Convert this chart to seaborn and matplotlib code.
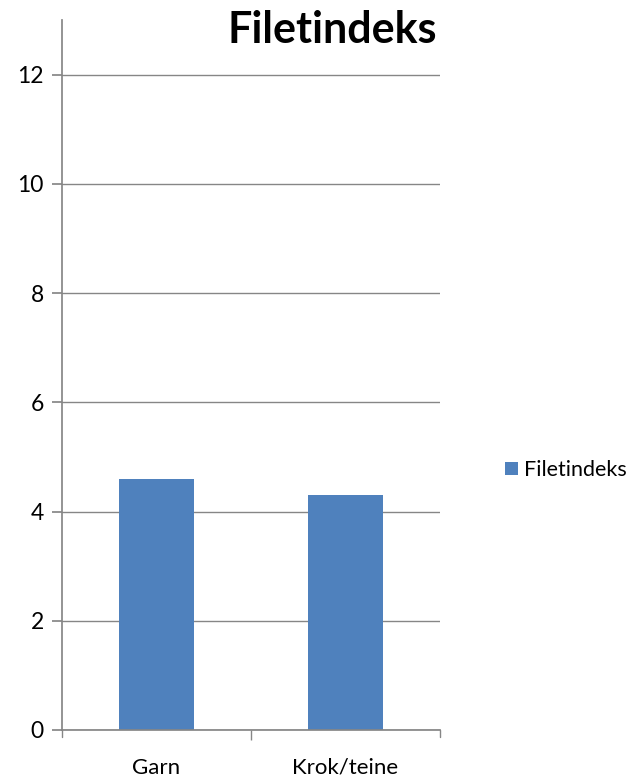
import matplotlib
matplotlib.use("Agg")
import matplotlib.pyplot as plt
import seaborn as sns
import pandas as pd

categories = ["Garn", "Krok/teine"]
values = [4.6, 4.3]
series_name = "Filetindeks"
yticks = [0, 2, 4, 6, 8, 10, 12]

df = pd.DataFrame({"cat": categories, "val": values, "series": [series_name] * len(categories)})

sns.set_theme(style="white")
plt.rcParams["font.family"] = ["Lato", "DejaVu Sans"]
plt.rcParams["text.color"] = "black"
plt.rcParams["xtick.labelcolor"] = "black"
plt.rcParams["ytick.labelcolor"] = "black"

fig = plt.figure(figsize=(6.36, 7.83), dpi=100)
ax = fig.add_axes([62 / 636, 53 / 783, 378 / 636, 710 / 783])

sns.barplot(data=df, x="cat", y="val", hue="series", palette=["#4F81BD"],
            width=0.4, dodge=False, ax=ax, saturation=1, legend=True, linewidth=0)

ax.set_ylim(0, 13)
ax.set_xlim(-0.5, 1.5)
ax.set_yticks(yticks)
ax.set_yticklabels([str(t) for t in yticks], fontsize=16.5, color="black")
ax.yaxis.grid(True, color="#868686", linewidth=1)
ax.set_axisbelow(True)
ax.set_xlabel("")
ax.set_ylabel("")

for s in ["top", "right"]:
    ax.spines[s].set_visible(False)
ax.spines["left"].set_color("#868686")
ax.spines["bottom"].set_color("#868686")

ax.tick_params(axis="y", length=7, color="#868686", direction="out", pad=6, left=True)
ax.tick_params(axis="x", which="major", length=0, labelsize=16, pad=20, labelcolor="black")
ax.set_xticks([0.5], minor=True)
ax.set_xticks([0, 1])
ax.set_xticklabels(categories)
ax.tick_params(axis="x", which="minor", length=7, color="#868686", direction="out", bottom=True)
for xv in [-0.5, 1.5]:
    ax.plot([xv, xv], [0, -0.13], color="#868686", lw=1, clip_on=False, transform=ax.transData)

fig.text(437 / 636, 1 - 30 / 783, "Filetindeks", ha="right", va="center",
         fontsize=31, fontweight="bold", color="black")

leg = ax.legend(loc="center left", bbox_to_anchor=(494 / 636, 1 - 470 / 783),
                bbox_transform=fig.transFigure, frameon=False, fontsize=15.5,
                handlelength=0.6, handleheight=0.6, handletextpad=0.3, borderpad=0)
for t in leg.get_texts():
    t.set_color("black")

fig.savefig("out.png", dpi=100)
